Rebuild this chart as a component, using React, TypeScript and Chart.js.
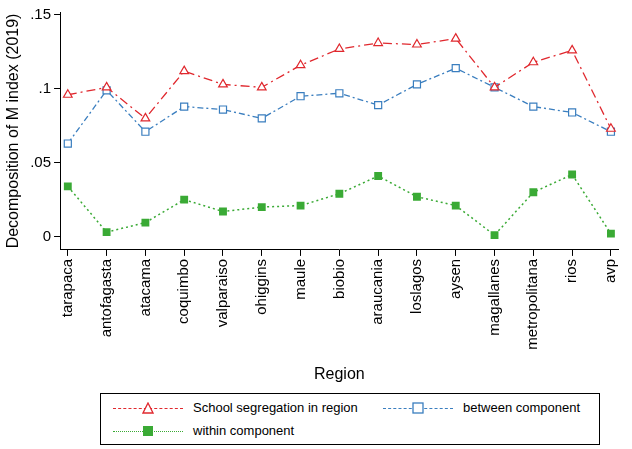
import React, { useEffect, useRef } from 'react';
import { Chart, registerables } from 'chart.js';

Chart.register(...registerables);

const regions = ['tarapaca', 'antofagasta', 'atacama', 'coquimbo', 'valparaiso', 'ohiggins', 'maule', 'biobio', 'araucania', 'loslagos', 'aysen', 'magallanes', 'metropolitana', 'rios', 'avp'];
const total = [0.096, 0.101, 0.080, 0.112, 0.103, 0.101, 0.116, 0.127, 0.131, 0.130, 0.134, 0.101, 0.118, 0.126, 0.073];
const between = [0.063, 0.099, 0.071, 0.088, 0.086, 0.080, 0.095, 0.097, 0.089, 0.103, 0.114, 0.101, 0.088, 0.084, 0.071];
const within = [0.034, 0.003, 0.0095, 0.025, 0.017, 0.020, 0.021, 0.029, 0.041, 0.027, 0.021, 0.001, 0.030, 0.042, 0.002];
const yTicks = [0, 0.05, 0.1, 0.15];
const yLabels = ['0', '.05', '.1', '.15'];

const RED = '#e0282e';
const BLUE = '#3a7ebf';
const GREEN = '#3aaa35';
const FONT = '"Liberation Sans", Arial, sans-serif';

const pts = (vals: number[]) => vals.map((v, i) => ({ x: i, y: v }));

const App: React.FC = () => {
    const canvasRef = useRef<HTMLCanvasElement>(null);
    const chartRef = useRef<Chart>();

    useEffect(() => {
        const ctx = canvasRef.current?.getContext('2d');
        if (!ctx) return;
        chartRef.current?.destroy();
        chartRef.current = new Chart(ctx, {
            type: 'line',
            data: {
                datasets: [
                    { label: 'School segregation in region', data: pts(total), borderColor: RED, borderWidth: 1.3, borderDash: [9, 4, 2, 4], pointStyle: 'triangle', pointRadius: 5, pointBorderColor: RED, pointBackgroundColor: 'white', pointBorderWidth: 1.2 },
                    { label: 'between component', data: pts(between), borderColor: BLUE, borderWidth: 1.3, borderDash: [6, 3, 2, 3], pointStyle: 'rect', pointRadius: 5, pointBorderColor: BLUE, pointBackgroundColor: 'white', pointBorderWidth: 1.2 },
                    { label: 'within component', data: pts(within), borderColor: GREEN, borderWidth: 1.5, borderDash: [2, 3], pointStyle: 'rect', pointRadius: 4.5, pointBorderColor: GREEN, pointBackgroundColor: GREEN },
                ],
            },
            options: {
                animation: false,
                responsive: false,
                layout: { padding: { top: 10, right: 2 } },
                plugins: { legend: { display: false }, tooltip: { enabled: false } },
                scales: {
                    x: {
                        type: 'linear', min: -0.2, max: 14.2,
                        afterBuildTicks: (s: any) => { s.ticks = regions.map((_, i) => ({ value: i })); },
                        ticks: { callback: (v: any) => regions[v as number], minRotation: 90, maxRotation: 90, color: '#000', font: { family: FONT, size: 15 } },
                        grid: { drawOnChartArea: false, tickLength: 6, color: '#000' },
                        border: { color: '#000' },
                        title: { display: true, text: 'Region', color: '#000', font: { family: FONT, size: 16 }, padding: { top: 12 } },
                    },
                    y: {
                        min: -0.009, max: 0.152,
                        afterBuildTicks: (s: any) => { s.ticks = yTicks.map(v => ({ value: v })); },
                        ticks: { callback: (v: any) => yLabels[yTicks.indexOf(v as number)] ?? '', color: '#000', font: { family: FONT, size: 15 } },
                        grid: { drawOnChartArea: false, tickLength: 6, color: '#000' },
                        border: { color: '#000' },
                        title: { display: true, text: 'Decomposition of M index (2019)', color: '#000', font: { family: FONT, size: 16 } },
                    },
                },
            },
        });
        return () => { chartRef.current?.destroy(); };
    }, []);

    const item = (color: string, dash: string, marker: React.ReactNode, text: string) => (
        <div style={{ display: 'flex', alignItems: 'center', gap: 10 }}>
            <div style={{ position: 'relative', width: 70, height: 12 }}>
                <div style={{ position: 'absolute', top: 6, left: 0, width: 70, borderTop: `1.5px ${dash} ${color}` }} />
                <div style={{ position: 'absolute', left: 29, top: 0 }}>{marker}</div>
            </div>
            <span>{text}</span>
        </div>
    );

    return (
        <div style={{ position: 'fixed', left: 0, top: 0, width: 632, height: 449, background: 'white' }}>
            <canvas ref={canvasRef} width={632} height={388} />
            <div style={{ position: 'absolute', left: 100, top: 393, width: 500, height: 52, boxSizing: 'border-box', border: '1px solid #000', fontFamily: FONT, fontSize: 13, padding: '6px 12px', display: 'grid', gridTemplateColumns: '270px 1fr', rowGap: 8 }}>
                {item(RED, 'dashed', <svg width="12" height="12"><polygon points="6,1 11,11 1,11" fill="white" stroke={RED} strokeWidth="1.3" /></svg>, 'School segregation in region')}
                {item(BLUE, 'dashed', <svg width="12" height="12"><rect x="1" y="1" width="10" height="10" fill="white" stroke={BLUE} strokeWidth="1.3" /></svg>, 'between component')}
                {item(GREEN, 'dotted', <svg width="12" height="12"><rect x="1" y="1" width="10" height="10" fill={GREEN} /></svg>, 'within component')}
            </div>
        </div>
    );
};

export default App;
